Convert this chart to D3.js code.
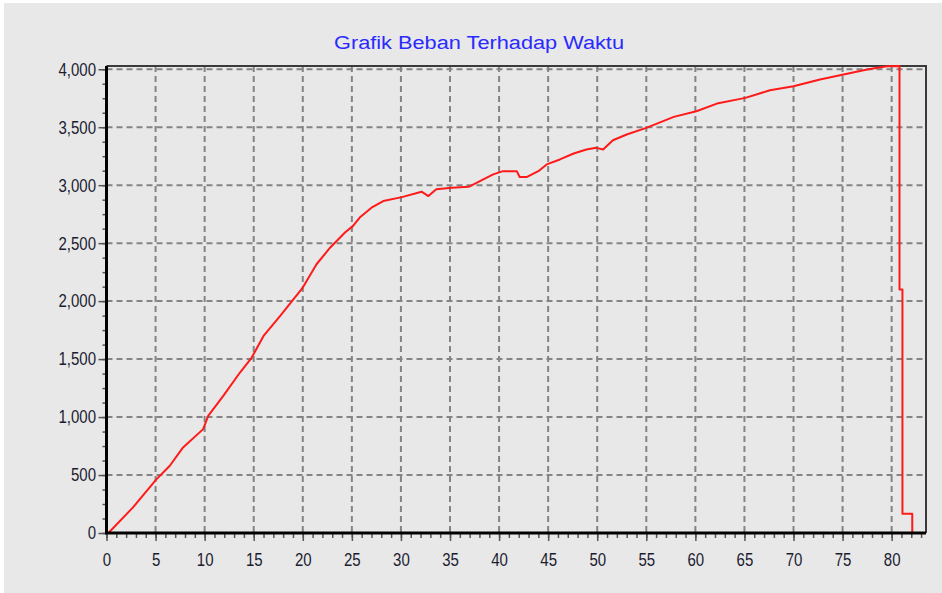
<!DOCTYPE html>
<html>
<head>
<meta charset="utf-8">
<script src="https://cdn.jsdelivr.net/npm/d3@7"></script>
<style>
  body { margin: 0; background: #fff; }
  svg { display: block; }
</style>
</head>
<body>
<div id="chart"></div>
<script>
// time (x) and load (y)
var timeVals = [0.2, 2.7, 5.1, 6.45, 7.8, 9.85, 10.36, 11.9, 13.6, 14.8, 16.0, 17.7, 18.9, 20.0, 21.4, 22.8, 24.3, 25.1, 25.8, 27.0, 28.2, 30.1, 32.1, 32.8, 33.6, 35.2, 36.9, 38.05, 39.4, 40.4, 41.8, 42.1, 42.8, 44.0, 44.85, 46.2, 47.6, 48.9, 49.9, 50.6, 51.6, 53.0, 55.0, 57.8, 60.1, 62.2, 65.1, 67.6, 70.0, 72.7, 75.1, 77.5, 79.5, 80.8, 80.8, 81.1, 81.1, 82.1, 82.1];
var loadVals = [0, 221, 465, 580, 738, 896, 1011, 1183, 1384, 1513, 1700, 1872, 2001, 2117, 2318, 2463, 2592, 2647, 2721, 2806, 2863, 2897, 2944, 2906, 2965, 2978, 2986, 3035, 3093, 3121, 3121, 3070, 3070, 3121, 3179, 3222, 3273, 3308, 3322, 3308, 3388, 3437, 3494, 3589, 3638, 3704, 3753, 3819, 3853, 3911, 3954, 3997, 4026, 4028, 2100, 2100, 165, 165, 0];
var xTicks = d3.range(0, 81, 5);
var yTicks = d3.range(0, 4001, 500);
var titleText = "Grafik Beban Terhadap Waktu";

var width = 942, height = 593;
// plot box (named so they don't clash with window.top)
var pLeft = 106.5, pRight = 926, pTop = 66, pBottom = 533;

var svg = d3.select("#chart").append("svg")
  .attr("width", width)
  .attr("height", height);

// gray panel
svg.append("rect")
  .attr("x", 4).attr("y", 3)
  .attr("width", width - 4).attr("height", height - 3)
  .attr("fill", "#e8e8e8");

var x = d3.scaleLinear().domain([0, 83.5]).range([pLeft, pRight]);
var y = d3.scaleLinear().domain([0, 4028]).range([pBottom, pTop]);

// grid
svg.append("g")
  .selectAll("line")
  .data(xTicks.filter(function (d) { return d > 0; }))
  .enter().append("line")
  .attr("x1", function (d) { return x(d); })
  .attr("x2", function (d) { return x(d); })
  .attr("y1", pTop).attr("y2", pBottom)
  .attr("stroke", "#848484").attr("stroke-width", 2)
  .attr("stroke-dasharray", "6,4");

svg.append("g")
  .selectAll("line")
  .data(yTicks.filter(function (d) { return d > 0; }))
  .enter().append("line")
  .attr("y1", function (d) { return y(d); })
  .attr("y2", function (d) { return y(d); })
  .attr("x1", pLeft).attr("x2", pRight)
  .attr("stroke", "#848484").attr("stroke-width", 2)
  .attr("stroke-dasharray", "6,4");

// top and right frame
svg.append("path")
  .attr("d", "M" + pLeft + "," + pTop + "H" + pRight + "V" + pBottom)
  .attr("fill", "none")
  .attr("stroke", "#3a3a3a")
  .attr("stroke-width", 2);

// the line
var pts = timeVals.map(function (t, i) { return [t, loadVals[i]]; });
var line = d3.line()
  .x(function (d) { return x(d[0]); })
  .y(function (d) { return y(d[1]); });

svg.append("path")
  .datum(pts)
  .attr("d", line)
  .attr("fill", "none")
  .attr("stroke", "#ff1a1a")
  .attr("stroke-width", 2)
  .attr("stroke-linejoin", "round");

// axes
var fontFam = "'Liberation Sans', Arial, sans-serif";

var xMinor = svg.append("g")
  .attr("transform", "translate(0," + pBottom + ")")
  .call(d3.axisBottom(x).tickValues(d3.range(0, 84, 1)).tickSize(5).tickFormat(""));
var xAxis = svg.append("g")
  .attr("transform", "translate(0," + pBottom + ")")
  .call(d3.axisBottom(x).tickValues(xTicks).tickSize(8).tickPadding(8));

var yMinor = svg.append("g")
  .attr("transform", "translate(" + pLeft + ",0)")
  .call(d3.axisLeft(y).tickValues(d3.range(0, 4028, 125)).tickSize(4).tickFormat(""));
var yAxis = svg.append("g")
  .attr("transform", "translate(" + pLeft + ",0)")
  .call(d3.axisLeft(y).tickValues(yTicks).tickSize(8).tickPadding(2.5).tickFormat(d3.format(",")));

[xMinor, xAxis, yMinor, yAxis].forEach(function (g) {
  g.selectAll(".domain").remove();
  g.selectAll(".tick line").attr("stroke", "#555").attr("stroke-width", 1.5);
  g.selectAll("text")
    .style("font-family", fontFam)
    .style("font-size", "15px")
    .attr("fill", "#1c1c30")
    .attr("transform", "scale(1,1.22)"); // labels look a bit tall in the original
});

// thick left and bottom axis lines
svg.append("path")
  .attr("d", "M" + pLeft + "," + pTop + "V" + pBottom + "H" + pRight)
  .attr("fill", "none")
  .attr("stroke", "#000")
  .attr("stroke-width", 3);

// title
svg.append("text")
  .attr("x", 479)
  .attr("y", 49)
  .attr("text-anchor", "middle")
  .style("font-family", fontFam)
  .style("font-size", "18px")
  .attr("fill", "#2a2aff")
  .attr("textLength", 290)
  .attr("lengthAdjust", "spacingAndGlyphs")
  .text(titleText);
</script>
</body>
</html>
